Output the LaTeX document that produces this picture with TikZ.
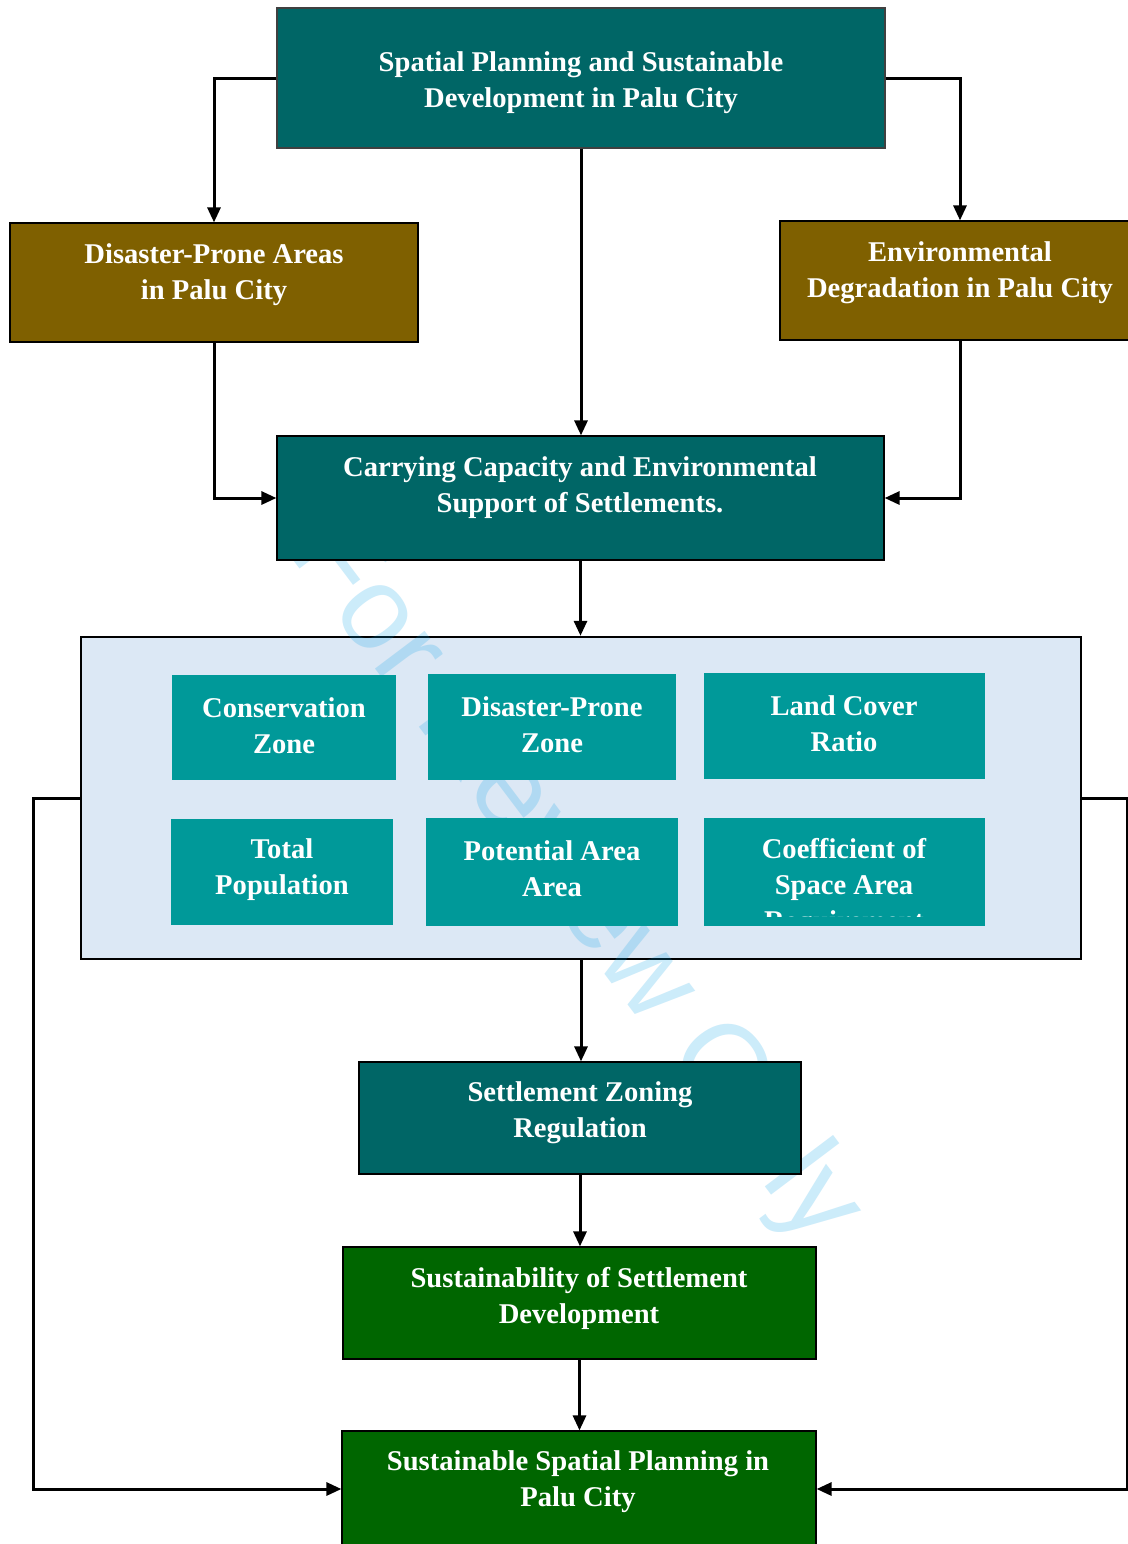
\documentclass[tikz,border=0pt]{standalone}
\usepackage{fontspec}
\setmainfont{Liberation Serif}
\newfontfamily\wmfont{Liberation Sans}
\usetikzlibrary{arrows.meta,fit}
\definecolor{tealdark}{RGB}{0,102,102}
\definecolor{tealmid}{RGB}{0,153,153}
\definecolor{brownbox}{RGB}{127,96,0}
\definecolor{greenbox}{RGB}{0,102,0}
\definecolor{paleblue}{RGB}{220,232,245}
\definecolor{wmblue}{RGB}{0,160,230}
\tikzset{
  box/.style={inner sep=0pt, draw=black, line width=0.6pt},
  innerbox/.style={inner sep=0pt, fill=tealmid},
  lbl/.style={text=white, align=center, inner sep=0pt, yshift=-2pt, font=\bfseries\fontsize{14.3}{18}\selectfont},
  conn/.style={line width=1.5pt, -{Triangle[length=7.5pt,width=6.5pt]}},
  wmark/.style={text=wmblue, text opacity=0.2, inner sep=0pt, font=\wmfont\fontsize{59}{60}\selectfont}
}
\begin{document}
\begin{tikzpicture}[x=0.5pt,y=-0.5pt]
\useasboundingbox (0,0) rectangle (1128,1544);
\fill[white] (0,0) rectangle (1128,1544);

% container
\node[box, fill=paleblue, line width=1.2pt, fit={(81,637)(1081,959)}] (cont) {};
% watermark
\node[wmark, rotate=-53] (wm) at (574,882) {For Review Only};

% top
\node[box, fill=tealdark, draw=black!75, fit={(277,8)(885,148)}] (top) {};
\node[lbl] (ttop) at (581,79) {Spatial Planning and Sustainable\\Development in Palu City};
% left / right
\node[box, fill=brownbox, fit={(10,223)(418,342)}] (left) {};
\node[lbl] (tleft) at (214,271) {Disaster-Prone Areas\\in Palu City};
\node[box, fill=brownbox, fit={(780,221)(1140,340)}] (right) {};
\node[lbl] (tright) at (960,269) {Environmental\\Degradation in Palu City};
% carrying
\node[box, fill=tealdark, fit={(277,436)(884,560)}] (carry) {};
\node[lbl] (tcarry) at (580,484) {Carrying Capacity and Environmental\\Support of Settlements.};

% inner boxes
\node[innerbox, fit={(172,675)(396,780)}] (cz) {};
\node[lbl] (tcz) at (284,722) {Conservation\\Zone};
\node[innerbox, fit={(428,674)(676,780)}] (dz) {};
\node[lbl] (tdz) at (552,721) {Disaster-Prone\\Zone};
\node[innerbox, fit={(704,673)(985,779)}] (lc) {};
\node[lbl] (tlc) at (844,720) {Land Cover\\Ratio};
\node[innerbox, fit={(171,819)(393,925)}] (tp) {};
\node[lbl] (ttp) at (282,866) {Total\\Population};
\node[innerbox, fit={(426,818)(678,926)}] (pa) {};
\node[lbl] (tpa) at (552,865) {Potential Area\\Area};
\node[innerbox, fit={(704,818)(985,926)}] (cs) {};
\begin{scope}
\clip (704,818) rectangle (985,916);
\node[lbl] (tcs) at (844,883) {Coefficient of\\Space Area\\Requirement};
\end{scope}

% lower chain
\node[box, fill=tealdark, fit={(359,1062)(801,1174)}] (settle) {};
\node[lbl] (tsettle) at (580,1109) {Settlement Zoning\\Regulation};
\node[box, fill=greenbox, fit={(343,1247)(816,1359)}] (sust) {};
\node[lbl] (tsust) at (579,1294) {Sustainability of Settlement\\Development};
\node[box, fill=greenbox, fit={(342,1431)(816,1547)}] (final) {};
\node[lbl] (tfinal) at (578,1478) {Sustainable Spatial Planning in\\Palu City};

% connectors
\draw[conn] (top.west) -| (left.north);
\draw[conn] (top.east) -| (right.north);
\draw[conn] (top.south) -- (top.south |- carry.north);
\draw[conn] (left.south) |- (carry.west);
\draw[conn] (right.south) |- (carry.east);
\draw[conn] (carry.south) -- (carry.south |- cont.north);
\draw[conn] (cont.south) -- (cont.south |- settle.north);
\draw[conn] (settle.south) -- (settle.south |- sust.north);
\draw[conn] (sust.south) -- (sust.south |- final.north);
\coordinate (lcorner) at (33,798);
\coordinate (rcorner) at (1127,798);
\draw[conn] (cont.west) -- (lcorner) |- (final.west);
\draw[conn] (cont.east) -- (rcorner) |- (final.east);
\end{tikzpicture}
\end{document}
